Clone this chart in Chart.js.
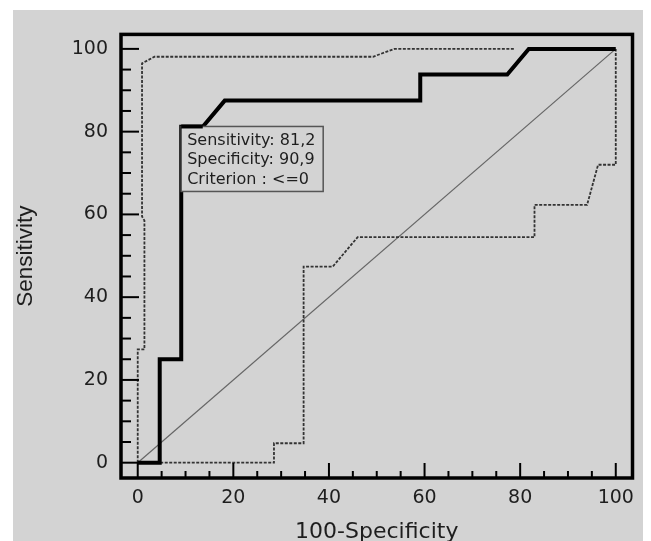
<!DOCTYPE html>
<html>
<head>
<meta charset="utf-8">
<script src="https://cdn.jsdelivr.net/npm/chart.js@4"></script>
<style>
  html, body { margin: 0; padding: 0; background: #fff; overflow: hidden; }
  #wrap { position: absolute; left: 13px; top: 10px; width: 630px; height: 531px; background: #d3d3d3; }
</style>
</head>
<body>
<div id="wrap"><canvas id="rocChart" width="630" height="531"></canvas></div>
<script>
// ROC curve and its confidence band
const rocX = [0, 4.6, 4.6, 9.1, 9.1, 13.6, 18.2, 59.1, 59.1, 77.3, 81.8, 100];
const rocY = [0, 0, 25, 25, 81.2, 81.2, 87.5, 87.5, 93.8, 93.8, 100, 100];

const upperX = [0, 0, 1.4, 1.4, 0.9, 0.9, 3.5, 49.2, 53.7, 78.8];
const upperY = [0, 27.4, 27.4, 58.5, 59.5, 96.5, 98.1, 98.1, 100, 100];

const lowerX = [0, 28.5, 28.5, 34.7, 34.7, 40.8, 46, 83, 83, 94, 96.3, 100, 100];
const lowerY = [0, 0, 4.7, 4.7, 47.4, 47.4, 54.5, 54.5, 62.3, 62.3, 72, 72, 100];

const diagX = [0, 100];
const diagY = [0, 100];

const xTicks = [0, 20, 40, 60, 80, 100];
const yTicks = [0, 20, 40, 60, 80, 100];

// Criterion box
const boxAt = [9.09, 81.25];
const boxLines = ['Sensitivity: 81,2', 'Specificity: 90,9', 'Criterion : <=0'];

function pts(xs, ys) {
    return xs.map((x, i) => ({ x: x, y: ys[i] }));
}

// frame + inward tick marks
const framePlugin = {
    id: 'frame',
    afterDatasetsDraw(chart) {
        const { ctx, chartArea: a, scales: { x, y } } = chart;
        ctx.save();
        ctx.strokeStyle = '#000';
        ctx.lineWidth = 2;
        for (let v = 0; v <= 100; v += 5) {
            const major = v % 20 === 0;
            const px = x.getPixelForValue(v);
            ctx.beginPath();
            ctx.moveTo(px, a.bottom);
            ctx.lineTo(px, a.bottom - (major ? 15 : 7));
            ctx.stroke();
            const py = y.getPixelForValue(v);
            ctx.beginPath();
            ctx.moveTo(a.left, py);
            ctx.lineTo(a.left + (major ? 18 : 10), py);
            ctx.stroke();
        }
        ctx.lineWidth = 3.5;
        ctx.strokeRect(a.left, a.top, a.right - a.left, a.bottom - a.top);
        ctx.restore();
    }
};

const boxPlugin = {
    id: 'criterionBox',
    afterDraw(chart) {
        const { ctx, scales: { x, y } } = chart;
        const left = x.getPixelForValue(boxAt[0]);
        const top = y.getPixelForValue(boxAt[1]);
        ctx.save();
        ctx.fillStyle = '#d3d3d3';
        ctx.fillRect(left, top, 142, 65);
        ctx.strokeStyle = '#555';
        ctx.lineWidth = 1.5;
        ctx.strokeRect(left, top, 142, 65);
        // thick curve runs along the box top edge
        ctx.strokeStyle = '#000';
        ctx.lineWidth = 4;
        ctx.beginPath();
        ctx.moveTo(left, top);
        ctx.lineTo(x.getPixelForValue(13.6), top);
        ctx.stroke();
        ctx.fillStyle = '#1e1e1e';
        ctx.font = '16px "DejaVu Sans"';
        ctx.textBaseline = 'middle';
        boxLines.forEach((t, i) => {
            ctx.fillText(t, left + 6, top + 14 + i * 19.5);
        });
        ctx.restore();
    }
};

const ctx = document.getElementById('rocChart');

new Chart(ctx, {
    type: 'scatter',
    data: {
        datasets: [
            {
                data: pts(rocX, rocY),
                showLine: true,
                borderColor: '#000',
                borderWidth: 4,
                pointRadius: 0,
                tension: 0
            },
            {
                data: pts(upperX, upperY),
                showLine: true,
                borderColor: '#333',
                borderWidth: 1.8,
                borderDash: [3, 1.5],
                pointRadius: 0
            },
            {
                data: pts(lowerX, lowerY),
                showLine: true,
                borderColor: '#333',
                borderWidth: 1.8,
                borderDash: [3, 1.5],
                pointRadius: 0
            },
            {
                data: pts(diagX, diagY),
                showLine: true,
                borderColor: '#666',
                borderWidth: 1.2,
                pointRadius: 0
            }
        ]
    },
    options: {
        responsive: false,
        animation: false,
        devicePixelRatio: 1,
        layout: { padding: { top: 5, right: 3, left: 0, bottom: 0 } },
        plugins: {
            legend: { display: false },
            tooltip: { enabled: false }
        },
        scales: {
            x: {
                type: 'linear',
                min: -3.5,
                max: 103.5,
                afterBuildTicks: s => { s.ticks = xTicks.map(v => ({ value: v })); },
                afterFit: s => { s.height = 63; },
                grid: { display: false, drawTicks: false },
                border: { display: false },
                ticks: {
                    padding: 9,
                    color: '#1e1e1e',
                    font: { family: 'DejaVu Sans', size: 19 },
                    maxRotation: 0
                },
                title: {
                    display: true,
                    text: '100-Specificity',
                    color: '#1e1e1e',
                    font: { family: 'DejaVu Sans', size: 22, lineHeight: 0.8 },
                    padding: 0
                }
            },
            y: {
                type: 'linear',
                min: -3.7,
                max: 103.5,
                afterBuildTicks: s => { s.ticks = yTicks.map(v => ({ value: v })); },
                afterFit: s => { s.width = 108; },
                grid: { display: false, drawTicks: false },
                border: { display: false },
                ticks: {
                    padding: 13,
                    color: '#1e1e1e',
                    font: { family: 'DejaVu Sans', size: 19 }
                },
                title: {
                    display: true,
                    text: 'Sensitivity',
                    color: '#1e1e1e',
                    font: { family: 'Liberation Sans', size: 22.5, lineHeight: 1 },
                    padding: { top: 2, bottom: 0 }
                }
            }
        }
    },
    plugins: [framePlugin, boxPlugin]
});
</script>
</body>
</html>
